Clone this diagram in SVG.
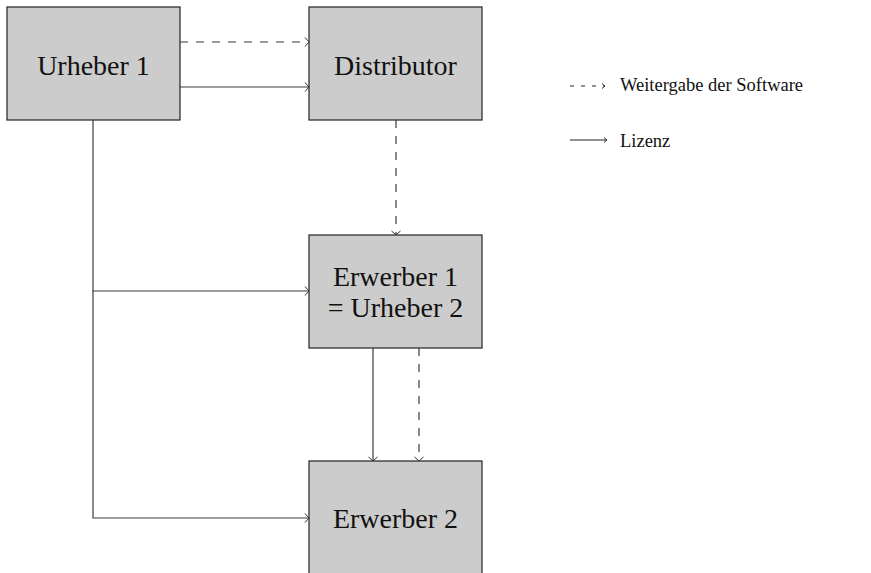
<svg xmlns="http://www.w3.org/2000/svg" width="871" height="573" viewBox="0 0 871 573">
<style>
.box{fill:#cccccc;stroke:#222;stroke-width:1.2}
.t{font-family:"Liberation Serif",serif;font-size:28px;fill:#111;text-anchor:middle}
.lt{font-family:"Liberation Serif",serif;font-size:18.5px;fill:#111}
.c{fill:none;stroke:#3a3a3a;stroke-width:1.2}
.d{stroke-dasharray:8,8}
</style>
<defs>
<marker id="a" markerWidth="8" markerHeight="12" refX="6" refY="6" orient="auto" markerUnits="userSpaceOnUse">
<path d="M2,1.5 Q4.5,4.5 6,6 Q4.5,7.5 2,10.5" fill="none" stroke="#333" stroke-width="1"/>
</marker>
<marker id="s" markerWidth="8" markerHeight="8" refX="6" refY="4" orient="auto" markerUnits="userSpaceOnUse">
<path d="M3,1.5 Q5,3.3 6,4 Q5,4.7 3,6.5" fill="none" stroke="#222" stroke-width="1"/>
</marker>
</defs>
<rect width="871" height="573" fill="#fff"/>
<g id="urheber1"><rect class="box" x="7" y="7" width="173" height="113"/><text class="t" x="93.5" y="75">Urheber 1</text></g>
<g id="distributor"><rect class="box" x="309" y="7" width="173" height="113"/><text class="t" x="395.5" y="75">Distributor</text></g>
<g id="erwerber1"><rect class="box" x="309" y="235" width="173" height="113"/><text class="t" x="395.5" y="286">Erwerber 1</text><text class="t" x="395.5" y="317">= Urheber 2</text></g>
<g id="erwerber2"><rect class="box" x="309" y="461" width="173" height="120"/><text class="t" x="395.5" y="528">Erwerber 2</text></g>
<g id="connectors">
<path class="c d" d="M180,42 H309" marker-end="url(#a)"/>
<path class="c" d="M180,87 H309" marker-end="url(#a)"/>
<path class="c d" d="M396,120 V235" marker-end="url(#a)"/>
<path class="c" d="M93,120 V291 H309" marker-end="url(#a)"/>
<path class="c" d="M93,291 V518 H309" marker-end="url(#a)"/>
<path class="c" d="M373,348 V461" marker-end="url(#a)"/>
<path class="c d" d="M419,348 V461" marker-end="url(#a)"/>
</g>
<g id="legend">
<path fill="none" stroke="#222" stroke-width="1" d="M570,86 H605" stroke-dasharray="4,7" marker-end="url(#s)"/>
<text class="lt" x="620" y="91">Weitergabe der Software</text>
<path fill="none" stroke="#222" stroke-width="1" d="M570,140 H607" marker-end="url(#s)"/>
<text class="lt" x="620" y="147">Lizenz</text>
</g>
</svg>
